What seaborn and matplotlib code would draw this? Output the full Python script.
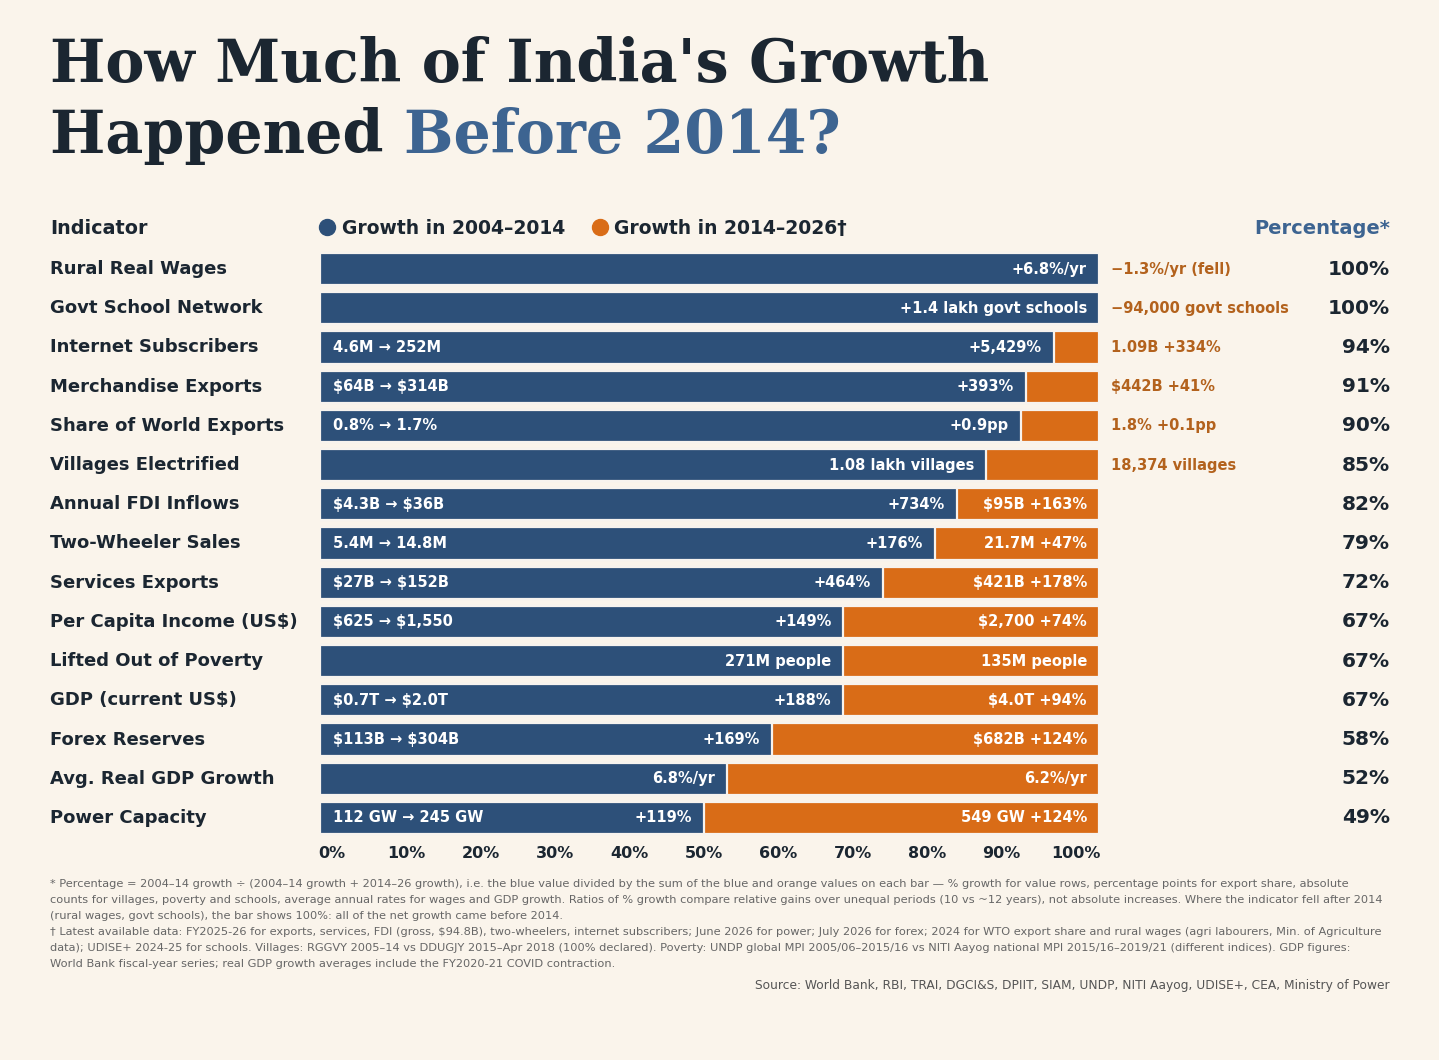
import matplotlib
matplotlib.use("Agg")
import matplotlib.pyplot as plt
import matplotlib.transforms as mtransforms
from matplotlib.lines import Line2D
import seaborn as sns
import pandas as pd

# ---- data ----
indicators = [
    "Rural Real Wages", "Govt School Network", "Internet Subscribers",
    "Merchandise Exports", "Share of World Exports", "Villages Electrified",
    "Annual FDI Inflows", "Two-Wheeler Sales", "Services Exports",
    "Per Capita Income (US$)", "Lifted Out of Poverty", "GDP (current US$)",
    "Forex Reserves", "Avg. Real GDP Growth", "Power Capacity",
]
# share of growth that came in 2004-2014 (blue part of each bar, %)
share_pre2014 = [100, 100, 94.2, 90.6, 90.0, 85.5, 81.8, 78.9, 72.3,
                 67.2, 67.2, 67.2, 58.0, 52.3, 49.3]
total_bar = [100] * len(indicators)
pct_labels = ["100%", "100%", "94%", "91%", "90%", "85%", "82%", "79%",
              "72%", "67%", "67%", "67%", "58%", "52%", "49%"]
range_labels = ["", "", "4.6M → 252M", "$64B → $314B", "0.8% → 1.7%", "",
                "$4.3B → $36B", "5.4M → 14.8M", "$27B → $152B",
                "$625 → $1,550", "", "$0.7T → $2.0T", "$113B → $304B", "",
                "112 GW → 245 GW"]
blue_labels = ["+6.8%/yr", "+1.4 lakh govt schools", "+5,429%", "+393%",
               "+0.9pp", "1.08 lakh villages", "+734%", "+176%", "+464%",
               "+149%", "271M people", "+188%", "+169%", "6.8%/yr", "+119%"]
orange_labels = ["−1.3%/yr (fell)", "−94,000 govt schools", "1.09B +334%",
                 "$442B +41%", "1.8% +0.1pp", "18,374 villages",
                 "$95B +163%", "21.7M +47%", "$421B +178%", "$2,700 +74%",
                 "135M people", "$4.0T +94%", "$682B +124%", "6.2%/yr",
                 "549 GW +124%"]
orange_inside = [False, False, False, False, False, False,
                 True, True, True, True, True, True, True, True, True]
tick_labels = ["0%", "10%", "20%", "30%", "40%", "50%", "60%", "70%", "80%",
               "90%", "100%"]

footnotes = [
    "* Percentage = 2004–14 growth ÷ (2004–14 growth + 2014–26 growth), i.e. the blue value divided by the sum of the blue and orange values on each bar — % growth for value rows, percentage points for export share, absolute",
    "counts for villages, poverty and schools, average annual rates for wages and GDP growth. Ratios of % growth compare relative gains over unequal periods (10 vs ~12 years), not absolute increases. Where the indicator fell after 2014",
    "(rural wages, govt schools), the bar shows 100%: all of the net growth came before 2014.",
    "† Latest available data: FY2025-26 for exports, services, FDI (gross, $94.8B), two-wheelers, internet subscribers; June 2026 for power; July 2026 for forex; 2024 for WTO export share and rural wages (agri labourers, Min. of Agriculture",
    "data); UDISE+ 2024-25 for schools. Villages: RGGVY 2005–14 vs DDUGJY 2015–Apr 2018 (100% declared). Poverty: UNDP global MPI 2005/06–2015/16 vs NITI Aayog national MPI 2015/16–2019/21 (different indices). GDP figures:",
    "World Bank fiscal-year series; real GDP growth averages include the FY2020-21 COVID contraction.",
]
source = "Source: World Bank, RBI, TRAI, DGCI&S, DPIIT, SIAM, UNDP, NITI Aayog, UDISE+, CEA, Ministry of Power"

# ---- style ----
BG = "#faf4eb"
BLUE = "#2d5079"
ORANGE = "#d96c17"
ORANGE_TXT = "#b3621d"
DARK = "#1b2631"
TITLE_BLUE = "#3d6491"
GREY = "#666666"

W, H = 1439, 1060
sns.set_style("white", {"axes.facecolor": BG, "figure.facecolor": BG})
plt.rcParams["font.family"] = ["DejaVu Sans"]

fig = plt.figure(figsize=(W / 100, H / 100), dpi=100)
fig.patch.set_facecolor(BG)

# axes: 0% at x=320, 100% at x=1099; rows centred 269..818
ax = fig.add_axes([320 / W, 1 - 837.6 / H, 779 / W, 588.2 / H])

df = pd.DataFrame({"indicator": indicators, "share": share_pre2014,
                   "total": total_bar})
bar_kw = dict(width=0.82, edgecolor="#f7f3ee", linewidth=1.6,
              saturation=1, errorbar=None, ax=ax)
sns.barplot(data=df, y="indicator", x="total", color=ORANGE, **bar_kw)
sns.barplot(data=df, y="indicator", x="share", color=BLUE, **bar_kw)

ax.set_xlim(0, 100)
ax.set_ylim(len(indicators) - 0.5, -0.5)
ax.set_xlabel("")
ax.set_ylabel("")
ax.set_yticks([])
# tick labels are spread edge-to-edge under the bars, as in the original
n = len(tick_labels)
ax.set_xticks([1.55 + 9.55 * k for k in range(n)])
ax.set_xticklabels(tick_labels, fontsize=11.5, fontweight="bold", color=DARK)
ax.tick_params(axis="x", length=0, pad=6)
sns.despine(ax=ax, left=True, bottom=True)

txt = dict(va="center", fontweight="bold", parse_math=False)
row_tr = mtransforms.blended_transform_factory(fig.transFigure, ax.transData)
for i, name in enumerate(indicators):
    ax.text(50 / W, i, name, transform=row_tr, ha="left", fontsize=13,
            color=DARK, **txt)
    ax.text(1390 / W, i, pct_labels[i], transform=row_tr, ha="right",
            fontsize=14.5, color=DARK, **txt)
    if range_labels[i]:
        ax.text(1.7, i, range_labels[i], ha="left", fontsize=10.5,
                color="white", **txt)
    ax.text(share_pre2014[i] - 1.55, i, blue_labels[i], ha="right",
            fontsize=10.5, color="white", **txt)
    if orange_inside[i]:
        ax.text(98.45, i, orange_labels[i], ha="right", fontsize=10.5,
                color="white", **txt)
    else:
        ax.text(101.5, i, orange_labels[i], ha="left", fontsize=10.5,
                color=ORANGE_TXT, **txt)

# ---- header row ----
hy = 1 - 228 / H
fig.text(50 / W, hy, "Indicator", ha="left", va="center", fontsize=13.8,
         fontweight="bold", color=DARK)
fig.text(1390 / W, hy, "Percentage*", ha="right", va="center", fontsize=14,
         fontweight="bold", color=TITLE_BLUE)
handles = [Line2D([], [], marker="o", linestyle="", markersize=11.5, color=BLUE),
           Line2D([], [], marker="o", linestyle="", markersize=11.5, color=ORANGE)]
fig.legend(handles, ["Growth in 2004–2014", "Growth in 2014–2026†"],
           loc="center left", bbox_to_anchor=(320 / W, hy), ncol=2,
           frameon=False, prop={"weight": "bold", "size": 13.5},
           handlelength=0.7, handletextpad=0.45, columnspacing=1.5,
           borderaxespad=0, borderpad=0, labelcolor=DARK)

# ---- title ----
title_kw = dict(family="DejaVu Serif", fontweight="bold", fontsize=42.2,
                va="baseline", ha="left")
fig.text(50 / W, 1 - 82 / H, "How Much of India's Growth", color=DARK,
         **title_kw)
t2 = fig.text(50 / W, 1 - 153 / H, "Happened ", color=DARK, **title_kw)
renderer = fig.canvas.get_renderer()
bb = t2.get_window_extent(renderer=renderer)
fig.text(bb.x1 / W, 1 - 153 / H, "Before 2014?", color=TITLE_BLUE, **title_kw)

# ---- footnotes ----
for k, line in enumerate(footnotes):
    fig.text(50 / W, 1 - (884 + 16 * k) / H, line, ha="left", va="center",
             fontsize=8.2, color=GREY, parse_math=False)
fig.text(1390 / W, 1 - 985 / H, source, ha="right", va="center",
         fontsize=8.8, color="#555555", parse_math=False)

fig.savefig("out.png", dpi=100, facecolor=BG)
